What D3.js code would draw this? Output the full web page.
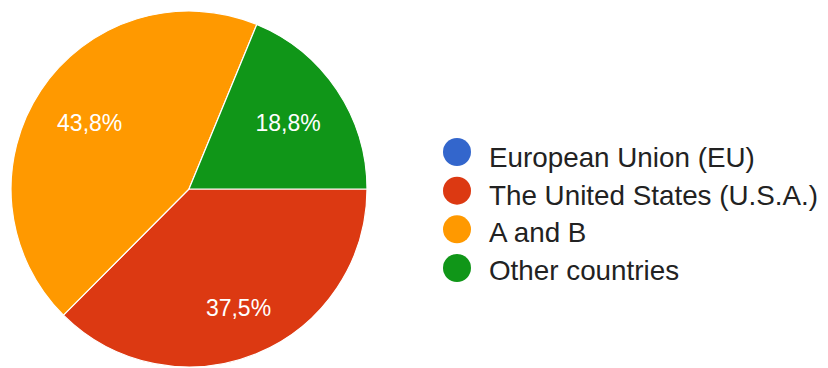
<!DOCTYPE html>
<html>
<head>
<meta charset="utf-8">
<script src="https://cdn.jsdelivr.net/npm/d3@7/dist/d3.min.js"></script>
<style>
  html, body { margin: 0; padding: 0; background: #fff; }
  svg { display: block; }
</style>
</head>
<body>
<svg id="chart" width="828" height="368"></svg>
<script>
// Survey answers: share of responses per region
const categories = ["European Union (EU)", "The United States (U.S.A.)", "A and B", "Other countries"];
const values = [0, 37.5, 43.8, 18.8];
const percentLabels = ["0%", "37,5%", "43,8%", "18,8%"];
const colors = ["#3366cc", "#dc3912", "#ff9900", "#109618"];

const svg = d3.select("#chart");
const cx = 189, cy = 189, R = 178;
const font = "'Liberation Sans', Arial, sans-serif";

const pie = d3.pie()
  .value(d => d)
  .sort(null)
  .startAngle(Math.PI / 2)
  .endAngle(Math.PI / 2 + 2 * Math.PI);

const arcs = pie(values);
const arc = d3.arc().innerRadius(0).outerRadius(R);

const g = svg.append("g").attr("transform", `translate(${cx},${cy})`);

g.selectAll("path.slice")
  .data(arcs.filter(a => a.data > 0))
  .join("path")
  .attr("class", "slice")
  .attr("d", arc)
  .attr("fill", a => colors[a.index])
  .attr("stroke", "#fff")
  .attr("stroke-width", 1.2);

// Percentage labels: push each label box outward along the slice's mid-angle
// until its outermost corner reaches a fixed radius.
const labelReach = 0.85 * R;
const labels = g.selectAll("text.pct")
  .data(arcs.filter(a => a.data > 0))
  .join("text")
  .attr("class", "pct")
  .attr("font-family", font)
  .attr("font-size", 23)
  .attr("fill", "#fff")
  .attr("text-anchor", "middle")
  .attr("dominant-baseline", "central")
  .text(a => percentLabels[a.index]);

labels.each(function(a) {
  const bb = this.getBBox();
  const hw = bb.width / 2, hh = 8;
  const mid = (a.startAngle + a.endAngle) / 2;
  const ux = Math.sin(mid), uy = -Math.cos(mid);
  const sx = Math.sign(ux) * hw, sy = Math.sign(uy) * hh;
  // solve |d*u + s| = labelReach for d
  const b = 2 * (ux * sx + uy * sy);
  const c = sx * sx + sy * sy - labelReach * labelReach;
  const d = (-b + Math.sqrt(b * b - 4 * c)) / 2;
  d3.select(this).attr("x", d * ux).attr("y", d * uy);
});

// Legend: swatch rows and text baselines
const swatchY = d3.scalePoint().domain(categories).range([152, 268]);
const textY = d3.scalePoint().domain(categories).range([167, 279.5]);
const legend = svg.append("g").attr("class", "legend");

legend.selectAll("circle")
  .data(categories)
  .join("circle")
  .attr("cx", 457)
  .attr("cy", d => swatchY(d))
  .attr("r", 14)
  .attr("fill", (d, i) => colors[i]);

legend.selectAll("text")
  .data(categories)
  .join("text")
  .attr("x", 489)
  .attr("y", d => textY(d))
  .attr("font-family", font)
  .attr("font-size", 27.8)
  .attr("fill", "#222")
  .text(d => d);
</script>
</body>
</html>
